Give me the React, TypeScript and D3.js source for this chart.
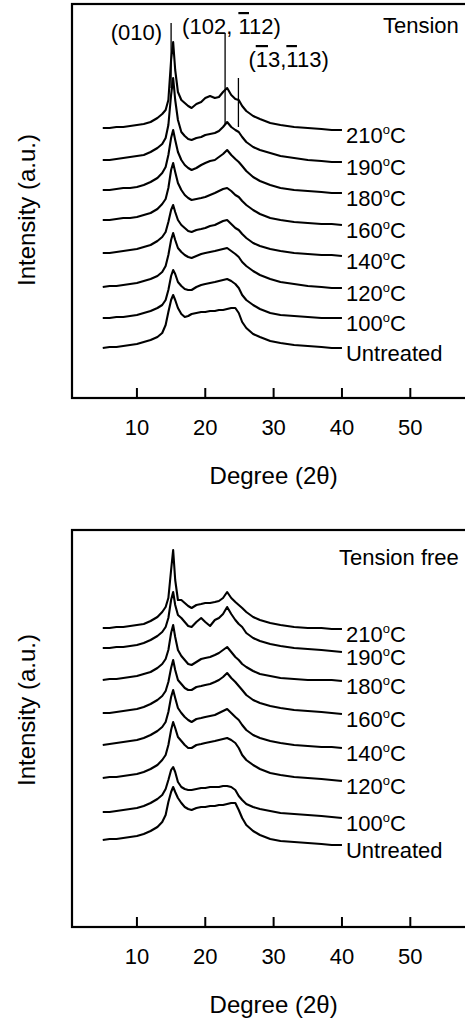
import * as d3 from 'd3';

const DEGREES = [
  5, 6, 7, 8, 9, 10, 11, 12, 13, 13.7,
  14.2, 14.6, 15.0, 15.3, 15.6, 16.0, 16.5, 17.0, 17.5, 18.0,
  18.7, 19.4, 20.0, 20.7, 21.4, 22.0, 22.6, 23.2, 23.8, 24.4,
  24.9, 25.4, 26.0, 27.0, 28.0, 29.5, 31, 33, 35, 37,
  38.5, 40,
];

const SERIES_LABELS = ['210', '190', '180', '160', '140', '120', '100', 'Untreated'];
const X_TICKS = [10, 20, 30, 40, 50];

// Tension (stacked intensities, a.u.)
const TENSION_210 = [
  270, 270, 271, 271, 272, 273, 274, 276, 280, 284,
  288, 298, 338, 356, 328, 306, 298, 295, 292, 290,
  294, 296, 300, 302, 300, 301, 306, 310, 303, 299,
  298, 292, 287, 282, 279, 275, 273, 271, 270, 269,
  268, 268,
];
const TENSION_190 = [
  238, 238, 239, 240, 241, 242, 243, 246, 250, 254,
  260, 273, 303, 320, 298, 278, 266, 262, 259, 258,
  260, 261, 263, 264, 265, 267, 271, 276, 271, 268,
  266, 261, 256, 251, 248, 245, 242, 240, 238, 237,
  236, 236,
];
const TENSION_180 = [
  208, 208, 209, 210, 210, 211, 213, 216, 220, 225,
  231, 243, 260, 268, 258, 246, 238, 233, 230, 228,
  230, 233, 235, 237, 238, 241, 244, 248, 243, 239,
  236, 232, 227, 221, 217, 213, 210, 208, 207, 206,
  205, 205,
];
const TENSION_160 = [
  178, 178, 179, 180, 180, 181, 183, 185, 189, 194,
  199, 210, 228, 235, 226, 215, 208, 203, 200, 198,
  199, 200, 201, 203, 205, 207, 209, 210, 207, 203,
  201, 197, 193, 188, 184, 180, 178, 176, 175, 174,
  174, 173,
];
const TENSION_140 = [
  145, 145, 146, 147, 148, 149, 151, 153, 157, 161,
  166, 176, 188, 193, 186, 178, 173, 170, 167, 166,
  168, 169, 170, 172, 173, 175, 177, 178, 174, 170,
  168, 164, 160, 155, 152, 149, 147, 145, 144, 143,
  143, 142,
];
const TENSION_120 = [
  111, 112, 112, 113, 114, 115, 117, 119, 122, 126,
  132, 143, 158, 165, 158, 150, 146, 143, 141, 140,
  142, 144, 145, 146, 147, 148, 149, 150, 147, 144,
  141, 136, 132, 127, 123, 119, 116, 114, 112, 111,
  110, 110,
];
const TENSION_100 = [
  80, 80, 81, 81, 82, 83, 85, 87, 90, 93,
  98, 108, 122, 128, 124, 116, 112, 109, 108, 108,
  111, 113, 114, 115, 116, 117, 118, 119, 117, 114,
  110, 103, 98, 93, 89, 85, 83, 82, 81, 80,
  80, 80,
];
const TENSION_UNTREATED = [
  50, 51, 51, 52, 53, 54, 56, 58, 61, 65,
  73, 86, 98, 103, 98, 90, 84, 81, 82, 84,
  85, 86, 86, 87, 87, 88, 88, 89, 90, 90,
  85, 76, 70, 64, 61, 57, 55, 53, 52, 51,
  50, 50,
];

// Tension free (stacked intensities, a.u.)
const FREE_210 = [
  299, 299, 300, 300, 301, 302, 303, 306, 310, 315,
  320, 329, 357, 377, 347, 327, 327, 324, 321, 319,
  322, 323, 324, 324, 325, 326, 329, 335, 329, 325,
  322, 319, 315, 310, 307, 304, 302, 300, 299, 299,
  298, 298,
];
const FREE_190 = [
  279, 279, 280, 280, 281, 282, 284, 287, 291, 295,
  300, 309, 327, 335, 322, 312, 309, 305, 301, 300,
  305, 309, 305, 301, 307, 309, 313, 320, 313, 307,
  303, 300, 294, 289, 286, 283, 281, 279, 278, 277,
  276, 275,
];
const FREE_180 = [
  247, 248, 248, 249, 250, 251, 253, 255, 259, 263,
  268, 277, 294, 302, 290, 277, 271, 267, 263, 262,
  265, 268, 269, 270, 272, 274, 277, 280, 275, 270,
  267, 263, 260, 256, 253, 251, 249, 248, 247, 247,
  247, 246,
];
const FREE_160 = [
  214, 214, 215, 216, 217, 218, 220, 223, 227, 231,
  236, 245, 259, 267, 257, 247, 243, 239, 237, 237,
  240, 241, 242, 243, 245, 247, 250, 254, 249, 245,
  241, 237, 232, 227, 224, 221, 219, 217, 216, 215,
  214, 213,
];
const FREE_140 = [
  182, 183, 184, 185, 186, 187, 189, 192, 196, 200,
  205, 215, 230, 237, 229, 219, 214, 210, 207, 205,
  208, 209, 210, 211, 212, 214, 216, 218, 214, 210,
  207, 202, 197, 192, 189, 186, 184, 182, 181, 180,
  180, 179,
];
const FREE_120 = [
  149, 150, 150, 151, 152, 153, 155, 158, 162, 167,
  172, 182, 197, 205, 199, 190, 186, 182, 179, 179,
  182, 183, 184, 185, 186, 187, 188, 189, 187, 184,
  179, 172, 167, 162, 158, 154, 152, 150, 149, 148,
  147, 146,
];
const FREE_100 = [
  115, 115, 116, 117, 118, 119, 121, 124, 128, 132,
  138, 147, 157, 160, 155, 145, 140, 138, 137, 137,
  138, 139, 139, 140, 140, 140, 141, 141, 140, 137,
  131, 127, 123, 120, 118, 116, 114, 113, 112, 111,
  110, 109,
];
const FREE_UNTREATED = [
  87, 88, 88, 89, 90, 91, 93, 96, 100, 105,
  112, 125, 135, 140, 135, 129, 124, 120, 118, 117,
  119, 120, 120, 121, 121, 122, 122, 123, 124, 124,
  117, 109, 102, 96, 92, 88, 86, 85, 84, 83,
  82, 82,
];

// reflection markers in the tension panel
const MARKER_DEGREES = [15.0, 22.9, 24.85];
const MARKER_TOPS = [375, 365, 320];
const MARKER_BOTTOMS = [310, 274, 271];

const TENSION = [
  TENSION_210, TENSION_190, TENSION_180, TENSION_160,
  TENSION_140, TENSION_120, TENSION_100, TENSION_UNTREATED,
];
const FREE = [
  FREE_210, FREE_190, FREE_180, FREE_160,
  FREE_140, FREE_120, FREE_100, FREE_UNTREATED,
];

const FONT = '"Liberation Sans", Arial, Helvetica, sans-serif';
const FONT_SIZE = 22;

const SeriesLabel = ({ name, x, y }) => {
  if (name === 'Untreated') {
    return (
      <text x={x} y={y} fontSize={FONT_SIZE}>
        {name}
      </text>
    );
  }
  return (
    <text x={x} y={y} fontSize={FONT_SIZE}>
      {name}
      <tspan fontSize={13} dy={-9}>
        o
      </tspan>
      <tspan dy={9}>C</tspan>
    </text>
  );
};

const Panel = ({ top, bottom, series, title, yLabelCenter, withMarkers }) => {
  const xScale = d3.scaleLinear().domain([0.5, 58.5]).range([72, 468.4]);
  const yScale = d3.scaleLinear().domain([0, bottom - top]).range([bottom, top]);

  const line = d3
    .line<number>()
    .x((_, i) => xScale(DEGREES[i]))
    .y(d => yScale(d));

  const lastX = xScale(DEGREES[DEGREES.length - 1]);

  return (
    <g fontFamily={FONT} fill="#000">
      {/* frame, right side runs off the page */}
      <rect
        x={xScale(0.5)}
        y={top}
        width={xScale(58.5) - xScale(0.5)}
        height={bottom - top}
        fill="none"
        stroke="#000"
        strokeWidth={2.2}
      />

      {X_TICKS.map(t => (
        <g key={`tick-${t}`}>
          <line
            x1={xScale(t)}
            x2={xScale(t)}
            y1={bottom}
            y2={bottom - 10}
            stroke="#000"
            strokeWidth={2}
          />
          <text x={xScale(t)} y={bottom + 37} textAnchor="middle" fontSize={FONT_SIZE}>
            {t}
          </text>
        </g>
      ))}

      <text x={xScale(30)} y={bottom + 86} textAnchor="middle" fontSize={24}>
        Degree (2θ)
      </text>

      <text
        transform={`translate(35,${yLabelCenter}) rotate(-90)`}
        textAnchor="middle"
        fontSize={24}
      >
        Intensity (a.u.)
      </text>

      <text x={xScale(57.1)} y={top + (withMarkers ? 29 : 35)} textAnchor="end" fontSize={FONT_SIZE}>
        {title}
      </text>

      {series.map((values, i) => (
        <path
          key={`trace-${SERIES_LABELS[i]}`}
          d={line(values) || ''}
          fill="none"
          stroke="#000"
          strokeWidth={2.1}
          strokeLinejoin="round"
        />
      ))}

      {series.map((values, i) => (
        <SeriesLabel
          key={`label-${SERIES_LABELS[i]}`}
          name={SERIES_LABELS[i]}
          x={lastX + 4}
          y={yScale(values[values.length - 1]) + 13}
        />
      ))}

      {withMarkers && (
        <g>
          {MARKER_DEGREES.map((d, i) => (
            <line
              key={`marker-${d}`}
              x1={xScale(d)}
              x2={xScale(d)}
              y1={yScale(MARKER_TOPS[i])}
              y2={yScale(MARKER_BOTTOMS[i])}
              stroke="#000"
              strokeWidth={1.3}
            />
          ))}
          <text x={xScale(MARKER_DEGREES[0]) - 9} y={top + 36} textAnchor="end" fontSize={FONT_SIZE}>
            (010)
          </text>
          <text x={xScale(MARKER_DEGREES[0]) + 11} y={top + 30} fontSize={FONT_SIZE}>
            (102,{' '}
            <tspan style={{ textDecoration: 'overline' }}>1</tspan>
            12)
          </text>
          <text x={xScale(MARKER_DEGREES[2]) + 10} y={top + 63} fontSize={FONT_SIZE}>
            (<tspan style={{ textDecoration: 'overline' }}>1</tspan>3,
            <tspan style={{ textDecoration: 'overline' }}>1</tspan>13)
          </text>
        </g>
      )}
    </g>
  );
};

const App = () => {
  return (
    <svg
      width={465}
      height={1021}
      style={{ position: 'absolute', left: 0, top: 0, background: '#fff' }}
    >
      <Panel top={4} bottom={398} series={TENSION} title="Tension" yLabelCenter={210} withMarkers />
      <Panel top={530} bottom={927} series={FREE} title="Tension free" yLabelCenter={710} withMarkers={false} />
    </svg>
  );
};

export default App;
